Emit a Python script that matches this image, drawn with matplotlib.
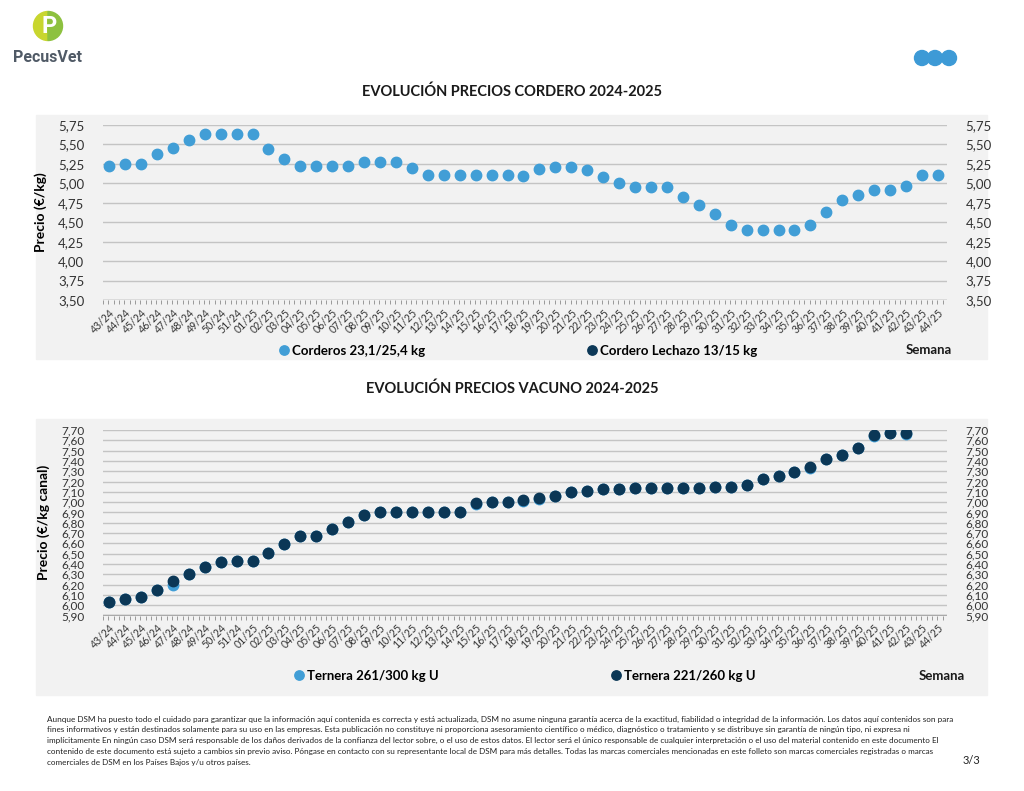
import numpy as np
import matplotlib
matplotlib.use('Agg')
import matplotlib.pyplot as plt
from matplotlib.patches import Rectangle, Circle, Wedge
from matplotlib.ticker import FuncFormatter, MultipleLocator

plt.rcParams['font.family'] = ['Lato', 'DejaVu Sans']

# Weeks 43/24 .. 44/25 (52/24 is not in the series)
weeks = ['43/24', '44/24', '45/24', '46/24', '47/24', '48/24', '49/24', '50/24', '51/24'] + \
        ['%02d/25' % w for w in range(1, 45)]

# Lamb prices (EUR/kg)
corderos = [5.22, 5.25, 5.25, 5.38, 5.46, 5.56, 5.63, 5.63, 5.63, 5.63,
            5.44, 5.31, 5.22, 5.22, 5.22, 5.22, 5.27, 5.27, 5.27, 5.20,
            5.11, 5.11, 5.11, 5.11, 5.11, 5.11, 5.09, 5.18, 5.21, 5.21,
            5.17, 5.08, 5.00, 4.95, 4.95, 4.95, 4.82, 4.72, 4.60, 4.47,
            4.40, 4.40, 4.40, 4.40, 4.46, 4.63, 4.78, 4.85, 4.92, 4.92,
            4.96, 5.11, 5.11]
lechazo = []  # no values shown for this series

# Beef prices (EUR/kg canal), up to 42/25
ternera_261 = [6.03, 6.06, 6.08, 6.15, 6.20, 6.30, 6.37, 6.42, 6.43, 6.43,
               6.51, 6.59, 6.67, 6.67, 6.74, 6.81, 6.88, 6.90, 6.90, 6.90,
               6.90, 6.90, 6.90, 6.98, 7.00, 7.00, 7.01, 7.03, 7.06, 7.10,
               7.11, 7.13, 7.13, 7.14, 7.14, 7.14, 7.14, 7.14, 7.15, 7.15,
               7.17, 7.22, 7.25, 7.29, 7.33, 7.42, 7.46, 7.53, 7.64, 7.67,
               7.66]
ternera_221 = [6.03, 6.06, 6.08, 6.15, 6.23, 6.30, 6.37, 6.42, 6.43, 6.43,
               6.51, 6.59, 6.67, 6.67, 6.74, 6.81, 6.88, 6.90, 6.90, 6.90,
               6.90, 6.90, 6.90, 6.99, 7.00, 7.00, 7.02, 7.04, 7.06, 7.10,
               7.11, 7.13, 7.13, 7.14, 7.14, 7.14, 7.14, 7.14, 7.15, 7.15,
               7.17, 7.22, 7.25, 7.29, 7.34, 7.42, 7.46, 7.53, 7.65, 7.67,
               7.67]

light_blue = '#419ED6'
navy = '#0B3756'
panel = '#F2F2F2'
grid = '#C4C4C4'

W, H = 1024, 791
fig = plt.figure(figsize=(W / 100, H / 100), dpi=100)


def fx(px):
    return px / W


def fy(py):
    return 1 - py / H


comma = FuncFormatter(lambda v, p: ('%.2f' % v).replace('.', ','))


def style_axes(ax, ymin, ymax, step, tick_fs):
    ax.set_facecolor('none')
    for s in ax.spines.values():
        s.set_visible(False)
    ax.set_xlim(-0.38, len(weeks) - 1 + 0.55)
    ax.set_ylim(ymin, ymax)
    ax.yaxis.set_major_locator(MultipleLocator(step))
    ax.yaxis.set_major_formatter(comma)
    ax.grid(axis='y', color=grid, linewidth=1.0)
    ax.set_axisbelow(True)
    ax.tick_params(axis='y', left=False, right=False, labelleft=True, labelright=True,
                   labelsize=tick_fs, colors='#333333', pad=10)
    ax.set_xticks(range(len(weeks)))
    ax.set_xticklabels(weeks, rotation=45, ha='right', rotation_mode='anchor',
                       fontsize=7.6, color='#333333')
    ax.tick_params(axis='x', length=0, pad=5)
    ax.set_xticks(np.arange(-0.38, len(weeks) - 0.4, 1 / 3), minor=True)
    ax.tick_params(axis='x', which='minor', length=3, color='#999999', width=0.7)
    ax.axhline(ymin, color='#AAAAAA', linewidth=1.0, zorder=1)


# grey panels
fig.patches.append(Rectangle((fx(36), fy(359)), fx(987 - 36), (359 - 115) / H,
                             transform=fig.transFigure, color=panel, zorder=-1))
fig.patches.append(Rectangle((fx(36), fy(695)), fx(987 - 36), (695 - 419) / H,
                             transform=fig.transFigure, color=panel, zorder=-1))

leg_kw = dict(loc='center left', frameon=False, handlelength=0.6, handletextpad=0.3,
              markerscale=0.9, prop={'weight': 'bold', 'size': 9.5})

# ---- lamb chart
ax1 = fig.add_axes([fx(103), fy(300), fx(946.7 - 103), (300 - 125) / H])
style_axes(ax1, 3.5, 5.75, 0.25, 9.5)
h1, = ax1.plot(range(len(corderos)), corderos, 'o', color=light_blue, markersize=7.5, zorder=3)
h2, = ax1.plot(range(len(lechazo)), lechazo, 'o', color=navy, markersize=7.5, zorder=4)
ax1.set_ylabel('Precio (€/kg)', fontsize=10, fontweight='bold', labelpad=8)

fig.text(0.5, fy(92), 'EVOLUCIÓN PRECIOS CORDERO 2024-2025', ha='center', va='center',
         fontsize=10.5, fontweight='bold', color='#1a1a1a')
fig.legend(handles=[h1], labels=['Corderos 23,1/25,4 kg'],
           bbox_to_anchor=(fx(268), fy(351)), **leg_kw)
fig.legend(handles=[h2], labels=['Cordero Lechazo 13/15 kg'],
           bbox_to_anchor=(fx(576), fy(351)), **leg_kw)
fig.text(fx(952), fy(350), 'Semana', ha='right', va='center', fontsize=9.5,
         fontweight='bold', color='#1a1a1a')

# ---- beef chart
ax2 = fig.add_axes([fx(103), fy(615.5), fx(946.7 - 103), (615.5 - 430) / H])
style_axes(ax2, 5.9, 7.7, 0.1, 8.5)
h3, = ax2.plot(range(len(ternera_261)), ternera_261, 'o', color=light_blue, markersize=7.5, zorder=3)
h4, = ax2.plot(range(len(ternera_221)), ternera_221, 'o', color=navy, markersize=7.5, zorder=4)
ax2.set_ylabel('Precio (€/kg canal)', fontsize=10, fontweight='bold', labelpad=8)

fig.text(0.5, fy(389), 'EVOLUCIÓN PRECIOS VACUNO 2024-2025', ha='center', va='center',
         fontsize=10.5, fontweight='bold', color='#1a1a1a')
fig.legend(handles=[h3], labels=['Ternera 261/300 kg U'],
           bbox_to_anchor=(fx(283), fy(676)), **leg_kw)
fig.legend(handles=[h4], labels=['Ternera 221/260 kg U'],
           bbox_to_anchor=(fx(600), fy(676)), **leg_kw)
fig.text(fx(965), fy(676), 'Semana', ha='right', va='center', fontsize=9.5,
         fontweight='bold', color='#1a1a1a')

# ---- header: logo and dots
logo = fig.add_axes([0, fy(80), fx(200), 80 / H])
logo.set_xlim(0, 200)
logo.set_ylim(80, 0)
logo.set_aspect('equal')
logo.axis('off')
logo.add_patch(Wedge((48, 26), 14.5, 90, 270, color='#C8D62E'))
logo.add_patch(Wedge((48, 26), 14.5, 270, 90, color='#8DC13F'))
logo.text(49, 26.5, 'P', ha='center', va='center', fontsize=17, fontweight='bold',
          color='white', family=['Roboto', 'DejaVu Sans'])
logo.text(13, 57, 'PecusVet', ha='left', va='center', fontsize=11.5, fontweight='bold',
          color='#505A66', family=['Roboto', 'DejaVu Sans'])

dots = fig.add_axes([fx(900), fy(80), fx(80), 40 / H])
dots.set_xlim(900, 980)
dots.set_ylim(80, 40)
dots.set_aspect('equal')
dots.axis('off')
for cx in (922, 935, 949):
    dots.add_patch(Circle((cx, 58), 7.5, color='#3D9AD6'))

# ---- footer
footer = [
    'Aunque DSM ha puesto todo el cuidado para garantizar que la información aquí contenida es correcta y está actualizada, DSM no asume ninguna garantía acerca de la exactitud, fiabilidad o integridad de la información. Los datos aquí contenidos son para',
    'fines informativos y están destinados solamente para su uso en las empresas. Esta publicación no constituye ni proporciona asesoramiento científico o médico, diagnóstico o tratamiento y se distribuye sin garantía de ningún tipo, ni expresa ni',
    'implícitamente En ningún caso DSM será responsable de los daños derivados de la confianza del lector sobre, o el uso de estos datos. El lector será el único responsable de cualquier interpretación o el uso del material contenido en este documento El',
    'contenido de este documento está sujeto a cambios sin previo aviso. Póngase en contacto con su representante local de DSM para más detalles. Todas las marcas comerciales mencionadas en este folleto son marcas comerciales registradas o marcas',
    'comerciales de DSM en los Países Bajos y/u otros países.',
]
for i, line in enumerate(footer):
    fig.text(fx(47), fy(719 + i * 10.8), line, ha='left', va='center', fontsize=5.9,
             color='#222222', family=['Lato', 'DejaVu Sans'])
fig.text(fx(980), fy(760), '3/3', ha='right', va='center', fontsize=8, color='#222222')

fig.savefig('out.png', dpi=100)
